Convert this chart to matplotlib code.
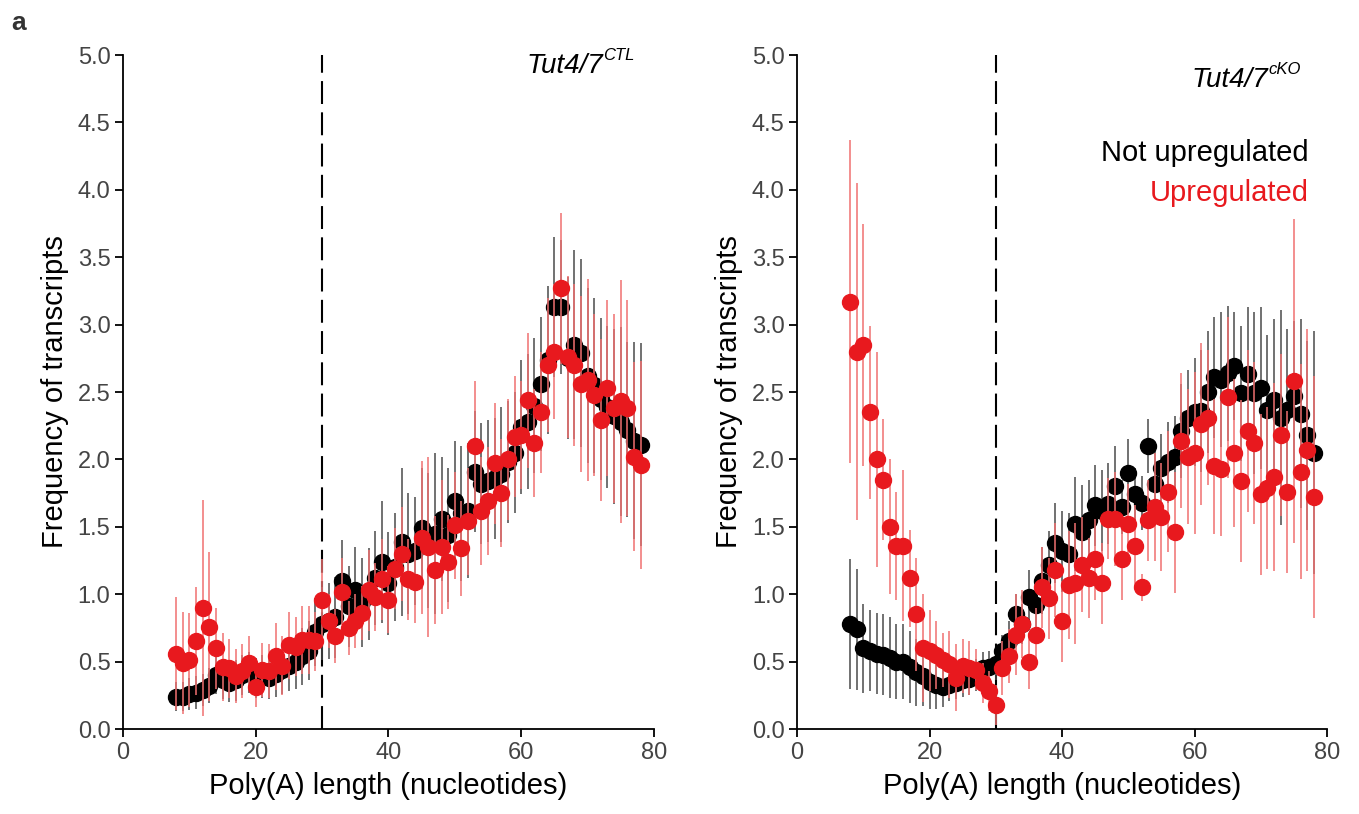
import matplotlib
matplotlib.use("Agg")
import matplotlib.pyplot as plt

plt.rcParams['font.family'] = ['Liberation Sans', 'DejaVu Sans']

# ---------------- data ----------------
polyA = list(range(8, 79))  # poly(A) length, nucleotides

ctl_not = [0.24, 0.24, 0.26, 0.27, 0.29, 0.32, 0.40, 0.36, 0.34, 0.36, 0.40, 0.42, 0.38, 0.39, 0.38, 0.41, 0.44, 0.47, 0.50, 0.54, 0.58, 0.72, 0.78,
           0.80, 0.83, 1.10, 0.91, 1.03, 0.94, 1.00, 1.12, 1.24, 1.08, 1.20, 1.39, 1.30, 1.32, 1.49, 1.40, 1.45, 1.56, 1.44, 1.69, 1.60, 1.62,
           1.91, 1.82, 1.84, 1.86, 1.89, 1.98, 2.05, 2.24, 2.28, 2.40, 2.56, 2.74, 3.13, 3.13, 2.75, 2.85, 2.79, 2.62, 2.55, 2.45, 2.39, 2.32, 2.28, 2.22, 2.14, 2.11]
ctl_not_err = [0.11, 0.11, 0.12, 0.12, 0.12, 0.13, 0.14, 0.14, 0.14, 0.15, 0.15, 0.15, 0.15, 0.16, 0.16, 0.17, 0.18, 0.19, 0.20, 0.21, 0.22, 0.25, 0.27,
               0.28, 0.30, 0.30, 0.30, 0.32, 0.33, 0.34, 0.35, 0.45, 0.38, 0.40, 0.55, 0.45, 0.40, 0.45, 0.50, 0.60, 0.46, 0.50, 0.45, 0.50, 0.50,
               0.45, 0.45, 0.45, 0.45, 0.50, 0.45, 0.45, 0.50, 0.50, 0.50, 0.50, 0.55, 0.52, 0.50, 0.60, 0.70, 0.70, 0.65, 0.65, 0.60, 0.60, 0.65, 0.70, 0.65, 0.73, 0.75]

ctl_up = [0.56, 0.49, 0.51, 0.65, 0.90, 0.76, 0.60, 0.46, 0.45, 0.39, 0.43, 0.49, 0.31, 0.44, 0.43, 0.54, 0.47, 0.62, 0.61, 0.66, 0.66, 0.65, 0.96,
          0.80, 0.69, 1.02, 0.75, 0.80, 0.86, 1.03, 0.98, 1.11, 0.96, 1.19, 1.30, 1.11, 1.09, 1.42, 1.35, 1.18, 1.35, 1.24, 1.51, 1.34, 1.54,
          2.10, 1.62, 1.69, 1.97, 1.75, 2.00, 2.17, 2.18, 2.44, 2.12, 2.35, 2.70, 2.80, 3.27, 2.76, 2.70, 2.56, 2.59, 2.48, 2.29, 2.53, 2.38, 2.43, 2.38, 2.02, 1.96]
ctl_up_err = [0.42, 0.38, 0.35, 0.40, 0.80, 0.55, 0.30, 0.25, 0.22, 0.20, 0.20, 0.20, 0.15, 0.20, 0.20, 0.25, 0.22, 0.25, 0.22, 0.25, 0.25, 0.22, 0.30,
              0.20, 0.20, 0.25, 0.20, 0.20, 0.20, 0.30, 0.25, 0.30, 0.25, 0.30, 0.35, 0.30, 0.30, 0.57, 0.67, 0.40, 0.50, 0.35, 0.40, 0.35, 0.40,
              0.48, 0.40, 0.40, 0.45, 0.40, 0.45, 0.45, 0.40, 0.50, 0.40, 0.45, 0.50, 0.50, 0.56, 0.60, 0.60, 0.65, 0.75, 0.60, 0.60, 0.65, 0.70, 0.90, 0.80, 0.70, 0.77]

cko_not = [0.78, 0.74, 0.60, 0.58, 0.56, 0.55, 0.53, 0.50, 0.50, 0.46, 0.42, 0.39, 0.35, 0.33, 0.31, 0.33, 0.34, 0.36, 0.37, 0.40, 0.45, 0.46, 0.48,
           0.58, 0.65, 0.85, 0.78, 0.98, 0.92, 1.10, 1.22, 1.38, 1.32, 1.30, 1.52, 1.46, 1.55, 1.66, 1.62, 1.67, 1.80, 1.65, 1.90, 1.74, 1.68,
           2.10, 1.82, 1.94, 1.98, 2.02, 2.21, 2.31, 2.35, 2.36, 2.50, 2.61, 2.59, 2.64, 2.69, 2.49, 2.63, 2.49, 2.53, 2.37, 2.44, 2.31, 2.37, 2.47, 2.34, 2.18, 2.05]
cko_not_err = [0.48, 0.45, 0.33, 0.30, 0.30, 0.30, 0.30, 0.28, 0.28, 0.27, 0.25, 0.22, 0.20, 0.18, 0.15, 0.12, 0.12, 0.12, 0.12, 0.12, 0.12, 0.12, 0.12,
               0.12, 0.15, 0.15, 0.15, 0.20, 0.20, 0.25, 0.25, 0.30, 0.30, 0.30, 0.35, 0.35, 0.30, 0.30, 0.30, 0.30, 0.30, 0.20, 0.25, 0.20, 0.20,
               0.20, 0.25, 0.25, 0.30, 0.30, 0.35, 0.35, 0.40, 0.45, 0.45, 0.45, 0.50, 0.50, 0.40, 0.50, 0.50, 0.60, 0.60, 0.55, 0.60, 0.80, 0.60, 0.56, 0.70, 0.70, 0.90]

cko_up = [3.17, 2.80, 2.85, 2.35, 2.00, 1.85, 1.50, 1.36, 1.36, 1.12, 0.85, 0.60, 0.58, 0.55, 0.51, 0.48, 0.38, 0.47, 0.45, 0.44, 0.34, 0.28, 0.18,
          0.45, 0.54, 0.70, 0.78, 0.50, 0.70, 1.05, 0.97, 1.18, 0.80, 1.07, 1.08, 1.22, 1.12, 1.26, 1.08, 1.56, 1.56, 1.26, 1.52, 1.36, 1.05,
          1.55, 1.65, 1.57, 1.76, 1.46, 2.14, 2.02, 2.05, 2.26, 2.31, 1.95, 1.93, 2.46, 2.05, 1.84, 2.21, 2.12, 1.74, 1.79, 1.87, 2.18, 1.76, 2.58, 1.91, 2.07, 1.72]
cko_up_err = [1.20, 1.25, 0.90, 0.64, 0.80, 0.45, 0.50, 0.40, 0.56, 0.36, 0.42, 0.40, 0.30, 0.25, 0.20, 0.25, 0.25, 0.20, 0.20, 0.15, 0.15, 0.15, 0.15,
              0.20, 0.20, 0.30, 0.25, 0.20, 0.20, 0.30, 0.30, 0.35, 0.30, 0.40, 0.45, 0.35, 0.30, 0.30, 0.30, 0.30, 0.35, 0.30, 0.30, 0.30, 0.10,
              0.30, 0.40, 0.40, 0.45, 0.45, 0.50, 0.50, 0.60, 0.60, 0.50, 0.50, 0.50, 0.60, 0.55, 0.60, 0.60, 0.60, 0.60, 0.60, 0.70, 0.60, 0.60, 1.20, 0.80, 0.90, 0.90]

x_ticks = [0, 20, 40, 60, 80]
y_ticks = [0.0, 0.5, 1.0, 1.5, 2.0, 2.5, 3.0, 3.5, 4.0, 4.5, 5.0]

BLACK = '#000000'
RED = '#E8191E'
BLACK_BAR = '#4a4a4a'
RED_BAR = '#F07070'
TICK_COLOR = '#444444'

fig = plt.figure(figsize=(13.59, 8.14), dpi=100)
ax1 = fig.add_axes([0.0905, 0.1044, 0.3907, 0.828])
ax2 = fig.add_axes([0.5865, 0.1044, 0.3900, 0.828])


def draw(ax, not_vals, not_err, up_vals, up_err):
    ax.axvline(30, color='black', lw=1.5, ls=(0, (11, 4)), zorder=1)
    ax.errorbar(polyA, not_vals, yerr=not_err, fmt='o', color=BLACK, ecolor=BLACK_BAR,
                elinewidth=1.1, markersize=11.5, capsize=0, zorder=2)
    ax.errorbar(polyA, up_vals, yerr=up_err, fmt='o', color=RED, ecolor=RED_BAR,
                elinewidth=1.1, markersize=11.5, capsize=0, zorder=3)
    ax.set_xlim(0, 80)
    ax.set_ylim(0, 5)
    ax.set_xticks(x_ticks)
    ax.set_yticks(y_ticks)
    ax.set_yticklabels([f'{v:.1f}' for v in y_ticks])
    for s in ['top', 'right']:
        ax.spines[s].set_visible(False)
    for s in ['left', 'bottom']:
        ax.spines[s].set_linewidth(1.3)
    ax.tick_params(axis='both', direction='out', length=6, width=1.3,
                   labelsize=17, labelcolor=TICK_COLOR, pad=3)
    ax.set_xlabel('Poly(A) length (nucleotides)', fontsize=21, labelpad=6)
    ax.set_ylabel('Frequency of transcripts', fontsize=21, labelpad=6)


draw(ax1, ctl_not, ctl_not_err, ctl_up, ctl_up_err)
draw(ax2, cko_not, cko_not_err, cko_up, cko_up_err)


def title(ax, xfrac, yfrac, main, sup):
    t = ax.text(xfrac, yfrac, main, transform=ax.transAxes, fontsize=20,
                style='italic', ha='left', va='baseline')
    ax.annotate(sup, xy=(1.0, 0.62), xycoords=t, fontsize=12, style='italic',
                ha='left', va='bottom')


title(ax1, 0.760, 0.973, 'Tut4/7', 'CTL')
title(ax2, 0.745, 0.952, 'Tut4/7', 'cKO')

ax2.text(0.965, 0.855, 'Not upregulated', transform=ax2.transAxes, fontsize=21,
         color='black', ha='right', va='center')
ax2.text(0.965, 0.795, 'Upregulated', transform=ax2.transAxes, fontsize=21,
         color=RED, ha='right', va='center')

fig.text(0.008, 0.972, 'a', fontsize=19, fontweight='bold', color='#333333',
         ha='left', va='center')

fig.savefig('out.png', dpi=100)
